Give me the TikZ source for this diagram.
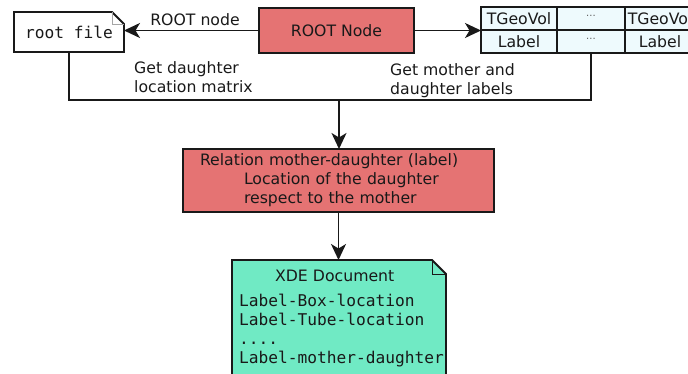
\documentclass[tikz,border=0pt]{standalone}
\usepackage{fontspec}
\setmainfont{DejaVu Sans}
\setsansfont{DejaVu Sans}
\setmonofont{DejaVu Sans Mono}
\usetikzlibrary{arrows.meta,backgrounds}
\definecolor{rootred}{RGB}{229,115,115}
\definecolor{xdegreen}{RGB}{112,234,196}
\definecolor{cellblue}{RGB}{238,250,253}
\definecolor{ink}{RGB}{25,25,25}
\begin{document}
\begin{tikzpicture}[x=1pt,y=-1pt,
  sanstext/.style={font=\fontsize{15.7}{19}\selectfont, text=ink},
  monotext/.style={font=\fontsize{16.2}{19}\ttfamily, text=ink},
  conn/.style={draw=ink, line width=1.8pt},
  arr/.style={conn, -{Stealth[length=16pt,width=15pt,inset=4.5pt]}},
  redbox/.style={draw=ink, fill=rootred, line width=1.8pt, inner sep=0pt, outer sep=0pt},
  cell/.style={draw=ink, fill=cellblue, line width=1.8pt, minimum height=23pt,
    inner sep=0pt, outer sep=0pt, text height=11.5pt, text depth=0pt, sanstext},
  lbl/.style={sanstext, inner sep=0pt},
  dotsmall/.style={font=\fontsize{9}{9}\selectfont}
]
\clip (0,0) rectangle (688,374);

% top row
\node[redbox, sanstext, minimum width=155pt, minimum height=45pt] (rootnode) at (336.5,30.5) {ROOT Node};
\node[monotext, minimum width=110pt, minimum height=40pt, inner sep=0pt, outer sep=0pt] (rootfile) at (69,32) {root file};

\node[cell, minimum width=76pt] (g1) at (519,18.5) {TGeoVol};
\node[cell, minimum width=68pt] (g2) at (591,18.5) {\raisebox{8pt}{\fontsize{10}{10}\selectfont\color{ink!70}...}};
\node[cell, minimum width=70pt] (g3) at (660,18.5) {TGeoVol};
\node[cell, minimum width=76pt] (l1) at (519,41.5) {Label};
\node[cell, minimum width=68pt] (l2) at (591,41.5) {\raisebox{8pt}{\fontsize{10}{10}\selectfont\color{ink!70}...}};
\node[cell, minimum width=70pt] (l3) at (660,41.5) {Label};

% middle box
\node[redbox, sanstext, minimum width=311pt, minimum height=63pt, text width=277pt,
  inner xsep=17pt, align=left] (rel) at (338.5,180.5)
  {Relation mother-daughter (label)\\\hspace*{44pt}Location of the daughter\\\hspace*{44pt}respect to the mother};

% XDE document
\node[anchor=north west, inner xsep=7pt, inner ysep=10.5pt, outer sep=0pt, text width=200pt,
  align=left, sanstext] (xde) at (232,260)
  {\hspace*{36pt}XDE Document\\[6pt]
   \fontsize{16.2}{19}\ttfamily Label-Box-location\\
   Label-Tube-location\\
   ....\\
   Label-mother-daughter};

\begin{scope}[on background layer]
  \draw[fill=white, draw=ink, line width=1.8pt, line join=miter]
    (rootfile.south west) -- (rootfile.north west) -- ([xshift=-12pt]rootfile.north east)
    -- ([yshift=-12pt]rootfile.north east) -- (rootfile.south east) -- cycle;
  \draw[draw=gray!70, line width=0.8pt]
    ([xshift=-12pt]rootfile.north east) -- ([xshift=-12pt,yshift=-12pt]rootfile.north east)
    -- ([yshift=-12pt]rootfile.north east);
  \draw[fill=xdegreen, draw=ink, line width=1.8pt, line join=miter]
    ([yshift=-30pt]xde.south west) -- (xde.north west) -- ([xshift=-14pt]xde.north east)
    -- ([yshift=-14pt]xde.north east) -- ([yshift=-30pt]xde.south east) -- cycle;
  \draw[draw=ink, line width=1pt]
    ([xshift=-14pt]xde.north east) -- ([xshift=-14pt,yshift=-14pt]xde.north east)
    -- ([yshift=-14pt]xde.north east);
\end{scope}

% labels
\node[lbl, anchor=base] (lblroot) at (195,26) {ROOT node};
\node[lbl, anchor=base west, align=left] (lbldaughter) at (134,93) {Get daughter\\location matrix};
\node[lbl, anchor=base west, align=left] (lblmother) at (390,95) {Get mother and\\daughter labels};

% connectors
\coordinate (join) at (339,100);
\draw[arr] (rootnode.west) -- (rootnode.west -| rootfile.east);
\draw[arr] (rootnode.east) -- (rootnode.east -| g1.west);
\draw[conn] (rootfile.south) |- (join) -| (l2.south);
\draw[arr] (join) -- (join |- rel.north);
\draw[arr] (rel.south) -- (rel.south |- xde.north);
\end{tikzpicture}
\end{document}
